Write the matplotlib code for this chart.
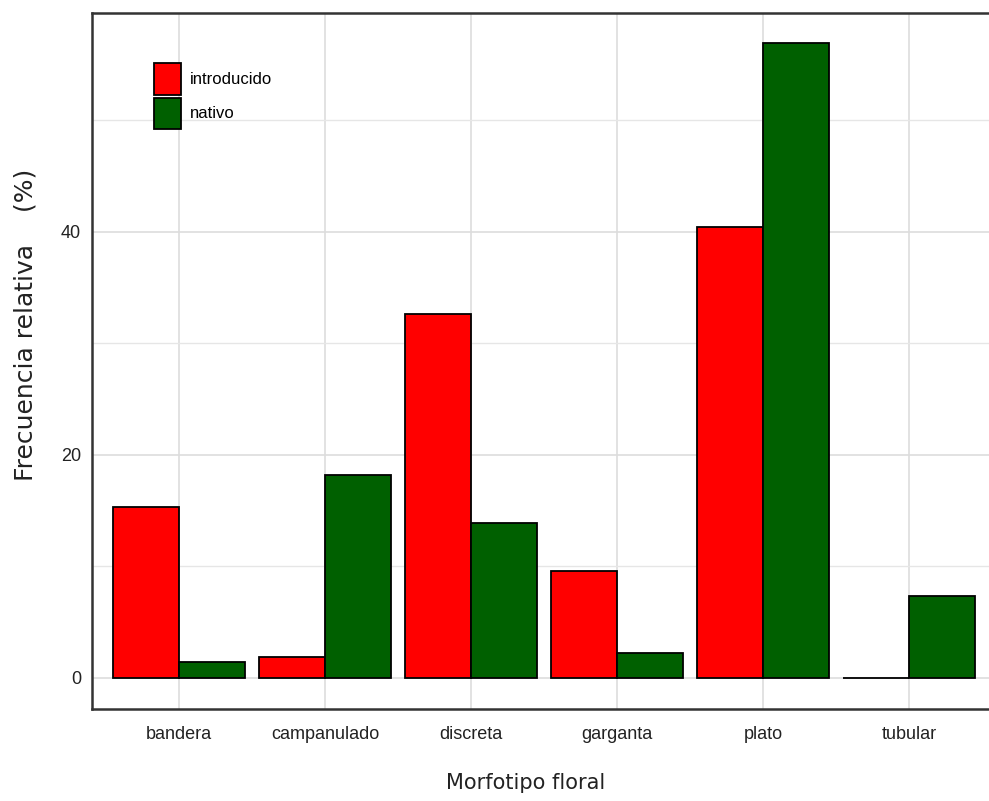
import numpy as np
import matplotlib
matplotlib.use("Agg")
from matplotlib import pyplot as plt
from matplotlib.patches import Patch

# data
categories = ["bandera", "campanulado", "discreta", "garganta", "plato", "tubular"]
introducido = [15.3, 1.9, 32.6, 9.6, 40.4, 0.0]
nativo = [1.4, 18.2, 13.9, 2.2, 56.9, 7.3]
series_names = ["introducido", "nativo"]
colors = ["#FF0000", "#006000"]

narrow = ["Liberation Sans Narrow", "Liberation Sans", "DejaVu Sans"]

fig = plt.figure(figsize=(9.89, 8.01), dpi=100)
ax = fig.add_axes([92 / 989, 92 / 801, 1 - 92 / 989, (709 - 13) / 801])

x = np.arange(len(categories))
w = 0.45
ax.bar(x - w / 2, introducido, w, color=colors[0], edgecolor="black", linewidth=1.3, zorder=3)
ax.bar(x + w / 2, nativo, w, color=colors[1], edgecolor="black", linewidth=1.3, zorder=3)

ax.set_xlim(-0.596, 5.548)
ax.set_ylim(-2.8, 59.6)

ax.set_xticks(x)
ax.set_xticklabels(categories, family=narrow, fontsize=13)
ax.set_yticks([0, 20, 40])
ax.set_yticklabels(["0", "20", "40"], family=narrow, fontsize=13)
ax.set_yticks([10, 30, 50], minor=True)
ax.tick_params(axis="both", which="both", length=0, pad=12, colors="#222222")
ax.tick_params(axis="y", pad=8)

ax.grid(True, which="major", color="#DDDDDD", linewidth=1.2, zorder=0)
ax.grid(True, which="minor", axis="y", color="#E6E6E6", linewidth=1.0, zorder=0)
ax.set_axisbelow(True)

for side in ["left", "bottom", "top"]:
    ax.spines[side].set_color("#333333")
    ax.spines[side].set_linewidth(1.8)
ax.spines["right"].set_visible(False)

ax.set_xlabel("Morfotipo floral", fontsize=15, color="#222222")
ax.xaxis.set_label_coords(0.483, -0.092)
ax.set_ylabel("Frecuencia relativa    (%)", fontsize=18, color="#222222",
              family="DejaVu Sans")
ax.yaxis.set_label_coords(-0.061, 0.552)

handles = [Patch(facecolor=c, edgecolor="black", linewidth=1.3) for c in colors]
ax.legend(handles, series_names, loc="upper left", bbox_to_anchor=(0.052, 0.950),
          frameon=False, prop={"family": narrow, "size": 12},
          handlelength=1.62, handleheight=2.55, handletextpad=0.55, labelspacing=0.18)

fig.savefig("out.png", dpi=100)
